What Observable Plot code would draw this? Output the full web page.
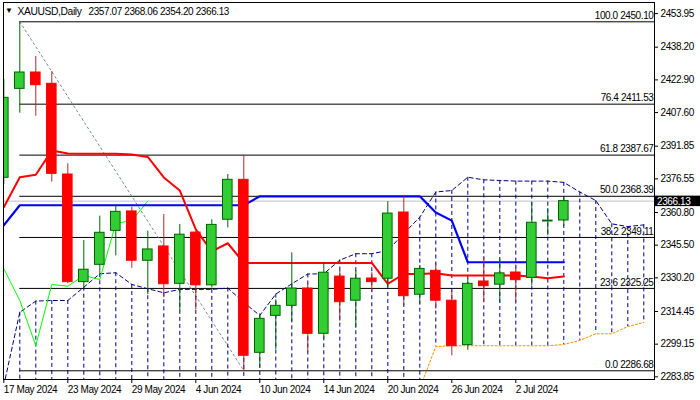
<!DOCTYPE html>
<html><head><meta charset="utf-8">
<script src="https://cdn.jsdelivr.net/npm/d3@7"></script>
<script src="https://cdn.jsdelivr.net/npm/@observablehq/plot@0.6"></script>
<style>
html,body{margin:0;padding:0;background:#fff;}
svg text{font-family:"Liberation Sans",Arial,sans-serif;letter-spacing:-0.4px;}
</style></head><body><div id="chart"></div>
<script>
const symbol = "XAUUSD,Daily";
const dates = ["2024-05-17","2024-05-20","2024-05-21","2024-05-22","2024-05-23","2024-05-24","2024-05-27","2024-05-28","2024-05-29","2024-05-30","2024-05-31",
 "2024-06-03","2024-06-04","2024-06-05","2024-06-06","2024-06-07","2024-06-10","2024-06-11","2024-06-12","2024-06-13","2024-06-14",
 "2024-06-17","2024-06-18","2024-06-19","2024-06-20","2024-06-21","2024-06-24","2024-06-25","2024-06-26","2024-06-27","2024-06-28",
 "2024-07-01","2024-07-02","2024-07-03","2024-07-04","2024-07-05"];
const open  = [2377.05,2418.70,2426.36,2421.07,2378.60,2328.20,2336.30,2352.20,2361.30,2338.20,2344.90,2327.40,2351.40,2326.70,2357.40,2376.10,2295.10,2312.40,2317.10,2325.20,2304.00,2330.80,2319.50,2329.90,2329.80,2360.80,2322.30,2333.50,2319.50,2298.70,2328.50,2327.00,2332.70,2330.20,2356.60,2357.07];
const high  = [2423.10,2450.10,2433.85,2426.80,2383.60,2347.70,2359.10,2364.40,2363.30,2352.10,2359.90,2355.20,2352.00,2357.40,2378.60,2387.67,2313.40,2319.90,2341.90,2327.50,2337.10,2333.60,2333.60,2332.60,2365.90,2368.80,2336.00,2337.30,2324.30,2330.00,2339.90,2338.80,2335.50,2365.50,2362.50,2368.06];
const low   = [2373.90,2407.30,2405.90,2375.00,2327.40,2325.20,2332.10,2340.50,2334.70,2322.30,2320.90,2314.60,2315.20,2325.50,2353.60,2286.68,2287.90,2296.50,2309.40,2295.30,2301.50,2309.90,2306.60,2323.50,2325.70,2317.10,2317.90,2315.50,2293.70,2296.30,2319.00,2318.50,2318.60,2326.60,2349.90,2354.20];
const close = [2414.50,2426.36,2420.40,2378.90,2328.20,2334.00,2351.30,2361.10,2338.20,2343.50,2327.20,2350.40,2326.70,2355.00,2376.10,2293.70,2311.00,2317.10,2325.20,2304.00,2332.60,2318.80,2329.80,2328.20,2360.30,2321.60,2334.40,2319.50,2298.20,2327.40,2326.30,2332.30,2329.10,2356.00,2357.00,2366.13];

// Ichimoku
const tenkan = [2363.3,2377.3,2378.5,2389.8,2388.4,2388.3,2388.3,2388.3,2388.0,2386.8,2377.2,2371.1,2352.9,2342.6,2346.4,2337.2,2337.2,2337.2,2337.2,2337.2,2337.2,2337.2,2337.2,2337.2,2327.4,2332.0,2332.0,2332.3,2331.3,2331.3,2331.3,2331.3,2331.3,2330.8,2330.0,2330.8];
const kijun  = [2354.8,2364.2,2364.2,2364.2,2364.2,2364.2,2364.2,2364.2,2364.2,2364.2,2364.2,2364.2,2364.2,2364.2,2364.2,2364.2,2368.39,2368.39,2368.39,2368.39,2368.39,2368.39,2368.39,2368.39,2368.39,2368.39,2368.39,2360.8,2357.0,2337.5,2337.5,2337.5,2337.5,2337.5,2337.5,2337.5];
const chikou = [2334.5,2319.6,2298.5,2327.1,2326.3,2331.3,2329.4,2355.7,2357.0,2366.13];
const spanA  = [2279.8,2314.1,2319.3,2319.6,2319.6,2325.8,2332.1,2332.6,2327.1,2325.1,2323.2,2324.8,2324.8,2324.8,2325.4,2318.7,2312.6,2322.6,2327.4,2332.0,2332.1,2338.5,2341.5,2341.5,2343.0,2351.0,2358.6,2370.4,2371.1,2377.3,2376.1,2375.8,2375.5,2375.5,2375.5,2374.9,2370.4,2366.4,2355.5,2354.2,2355.0];
const spanB  = [2278.3,2278.3,2278.3,2278.3,2278.3,2278.3,2278.3,2278.3,2278.3,2278.3,2278.3,2278.3,2278.3,2278.3,2278.3,2278.3,2278.3,2278.3,2278.3,2278.3,2278.3,2278.3,2278.3,2278.3,2278.3,2278.3,2278.5,2298.0,2298.4,2298.4,2298.4,2298.4,2298.4,2298.4,2298.4,2299.0,2300.9,2304.0,2304.0,2307.4,2309.3];

// Fibonacci retracement
const fibPct    = [100.0, 76.4, 61.8, 50.0, 38.2, 23.6, 0.0];
const fibLevels = [2450.10, 2411.53, 2387.67, 2368.39, 2349.11, 2325.25, 2286.68];

// Axis ticks
const yTicks = [2453.95,2438.20,2422.90,2407.60,2391.85,2376.55,2360.80,2345.50,2330.20,2314.45,2299.15,2283.85];
const xTickIdx = [0,4,8,12,16,20,24,28,32];

const fmtDate = d3.utcFormat("%-d %b %Y");
const bars = dates.map((d,i)=>({i, date:new Date(d+"T00:00:00Z"), open:open[i], high:high[i], low:low[i], close:close[i]}));
const upBars = bars.filter(b=>b.close>=b.open);
const dnBars = bars.filter(b=>b.close<b.open);
const series = arr => arr.map((v,i)=>({i, v}));
const cloud = spanA.map((a,i)=>({i, a, b:spanB[i]}));

const xMax = 40.669;
const hiIdx = high.indexOf(d3.max(high));
const loIdx = low.indexOf(d3.min(low));
const fib = fibLevels.map((v,k)=>({v, label: fibPct[k].toFixed(1)+" "+v.toFixed(2)}));
const last = bars[bars.length-1];

const GREEN_FILL="#32cd32", GREEN_LINE="#006400", RED_FILL="#ff0000", RED_WICK="#b0282a";

const plot = Plot.plot({
  width:700, height:400,
  marginLeft:3, marginRight:46, marginTop:2, marginBottom:21,
  x:{type:"linear", domain:[-0.01875, xMax]},
  y:{domain:[2282.6, 2459.14]},
  style:{fontSize:"10px", fontFamily:"Liberation Sans, Arial, sans-serif", color:"black", background:"white", overflow:"visible"},
  marks:[
    // fib lines
    Plot.ruleY(fib, {y:"v", x1:hiIdx, x2:xMax, stroke:"black", strokeWidth:1}),
    Plot.line([{i:hiIdx, v:high[hiIdx]},{i:loIdx, v:low[loIdx]}], {x:"i", y:"v", stroke:"#7a8899", strokeDasharray:"2,3", strokeWidth:1}),
    // bid line
    Plot.ruleY([last.close], {stroke:"#c0c0c0", strokeWidth:1}),
    // cloud hatch
    Plot.ruleX(cloud, {x:"i", y1:"a", y2:"b", stroke:"#000080", strokeDasharray:"4,3", strokeWidth:1, clip:true}),
    Plot.line(series(spanA), {x:"i", y:"v", stroke:"#000080", strokeDasharray:"4,3", strokeWidth:1, clip:true}),
    Plot.line(series(spanB), {x:"i", y:"v", stroke:"#ff8c00", strokeDasharray:"2,2", strokeWidth:1, clip:true}),
    Plot.line(series(chikou), {x:"i", y:"v", stroke:"#00ff00", strokeWidth:1, clip:true}),
    Plot.line(series(kijun), {x:"i", y:"v", stroke:"#0000ff", strokeWidth:2.2, clip:true}),
    Plot.line(series(tenkan), {x:"i", y:"v", stroke:"#ff0000", strokeWidth:2, clip:true}),
    // candles
    Plot.ruleX(upBars, {x:"i", y1:"low", y2:"high", stroke:GREEN_LINE, strokeWidth:1, clip:true}),
    Plot.ruleX(dnBars, {x:"i", y1:"low", y2:"high", stroke:RED_WICK, strokeWidth:1, clip:true}),
    Plot.rect(upBars, {x1:d=>d.i-0.5, x2:d=>d.i+0.5, y1:"open", y2:"close", insetLeft:3.2, insetRight:3.2, fill:GREEN_FILL, stroke:GREEN_LINE, strokeWidth:1, clip:true}),
    Plot.rect(dnBars, {x1:d=>d.i-0.5, x2:d=>d.i+0.5, y1:"open", y2:"close", insetLeft:3.2, insetRight:3.2, fill:RED_FILL, stroke:RED_FILL, strokeWidth:1, clip:true}),
    // fib labels
    Plot.text(fib, {x:xMax, y:"v", text:"label", textAnchor:"end", dx:-1, dy:-6, fill:"black"}),
    // axes
    Plot.axisY({anchor:"right", ticks:yTicks, tickFormat:d=>d.toFixed(2), tickSize:3, tickPadding:3, label:null}),
    Plot.axisX({ticks:xTickIdx, tickFormat:i=>fmtDate(bars[i].date), textAnchor:"start", tickSize:4, tickPadding:2, label:null}),
    Plot.frame({stroke:"black"})
  ]
});

const svg = d3.select(plot);
const ys = plot.scale("y");
// header
svg.append("text").attr("x",5).attr("y",13).attr("font-size","8px").attr("fill","black").attr("text-anchor","start").text("▼");
svg.append("text").attr("x",17.5).attr("y",14.5).attr("fill","black").attr("font-size","10.5px").attr("text-anchor","start")
  .attr("textLength",64).attr("lengthAdjust","spacingAndGlyphs").text(symbol);
svg.append("text").attr("x",88.5).attr("y",14.5).attr("fill","black").attr("font-size","10.5px").attr("text-anchor","start")
  .attr("textLength",140.5).attr("lengthAdjust","spacingAndGlyphs")
  .text(`${last.open.toFixed(2)} ${last.high.toFixed(2)} ${last.low.toFixed(2)} ${last.close.toFixed(2)}`);
// bid price box
const yb = ys.apply(last.close);
svg.append("rect").attr("x",655).attr("y",yb-5).attr("width",45).attr("height",10.5).attr("fill","black");
svg.append("text").attr("x",657).attr("y",yb+4).attr("font-size","10px").attr("fill","white").attr("text-anchor","start").text(last.close.toFixed(2));

document.getElementById("chart").appendChild(plot);
</script></body></html>
